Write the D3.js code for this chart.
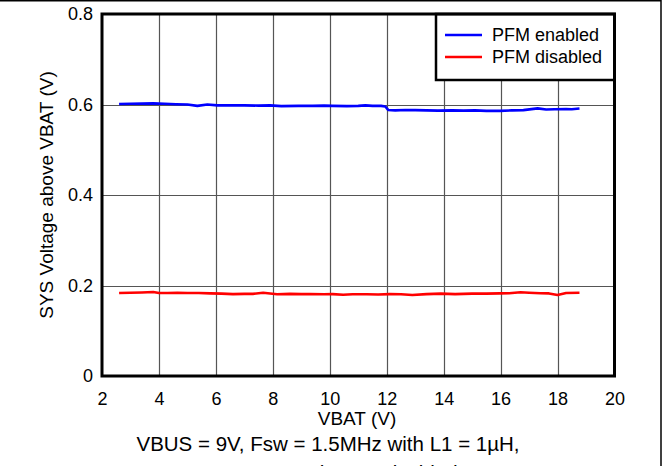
<!DOCTYPE html>
<html><head><meta charset="utf-8">
<script src="https://cdn.jsdelivr.net/npm/d3@7"></script>
<style>body{margin:0;background:#fff}svg{display:block}text{font-family:"Liberation Sans",Arial,Helvetica,sans-serif;fill:#000}</style>
</head><body>
<script>
const xTicks=[2,4,6,8,10,12,14,16,18,20];
const yTicks=[0,0.2,0.4,0.6,0.8];
const yTickLabels=["0","0.2","0.4","0.6","0.8"];
const seriesNames=["PFM enabled","PFM disabled"];
const seriesColors=["#0000ff","#ff0000"];
const enabledX=[2.6,3.0,3.4,3.8,4.2,4.6,5.0,5.35,5.7,6.05,6.5,7.0,7.5,7.9,8.3,8.9,9.4,9.8,10.1,10.6,11.0,11.25,11.5,11.8,11.95,12.05,12.3,12.65,13.0,13.4,13.8,14.3,14.7,15.1,15.5,15.97,16.4,16.8,17.3,17.6,17.9,18.3,18.5,18.77];
const enabledY=[.601,.6015,.602,.6025,.6015,.6005,.600,.597,.600,.598,.5985,.598,.5975,.598,.5965,.597,.597,.5975,.597,.5965,.597,.598,.597,.597,.5955,.588,.587,.588,.5875,.587,.5865,.587,.5865,.587,.586,.586,.587,.5875,.5915,.589,.5895,.590,.5895,.591];
const disabledX=[2.6,3.0,3.4,3.8,4.0,4.3,4.65,5.0,5.4,5.8,6.2,6.6,7.0,7.3,7.66,8.15,8.6,9.0,9.3,9.8,10.1,10.47,10.8,11.3,11.7,12.1,12.5,12.9,13.4,13.9,14.4,15.0,15.5,15.97,16.3,16.7,17.0,17.4,17.7,18.0,18.3,18.77];
const disabledY=[.1835,.184,.1845,.1855,.1835,.1835,.184,.1835,.1835,.1827,.182,.181,.1815,.1815,.184,.1805,.1815,.181,.181,.1805,.181,.1797,.1805,.1805,.180,.181,.1805,.179,.181,.182,.181,.182,.182,.1827,.183,.185,.184,.183,.1825,.179,.1835,.184];
const xTitle="VBAT (V)";
const yTitle="SYS Voltage above VBAT (V)";
const caption1="VBUS = 9V, Fsw = 1.5MHz with L1 = 1\u00b5H,";
const caption2="ISYS = 1A, Charge Disabled";

const W=669,H=466;
const L=102,R=614.5,T=14,B=376;
const svg=d3.select("body").append("svg").attr("width",W).attr("height",H);
const x=d3.scaleLinear().domain([2,20]).range([L,R]);
const y=d3.scaleLinear().domain([0,0.8]).range([B,T]);

// outer frame lines
svg.append("line").attr("x1",0).attr("x2",661).attr("y1",0.75).attr("y2",0.75).attr("stroke","#000").attr("stroke-width",1.5);
svg.append("line").attr("x1",661).attr("x2",661).attr("y1",0).attr("y2",H).attr("stroke","#000").attr("stroke-width",1.5);

// grid
const g=svg.append("g");
g.selectAll(".vg").data(xTicks.slice(1,-1)).join("line")
 .attr("x1",d=>Math.round(x(d))+0.5).attr("x2",d=>Math.round(x(d))+0.5).attr("y1",T).attr("y2",B)
 .attr("stroke","#555").attr("stroke-width",1.2);
g.selectAll(".hg").data(yTicks.slice(1,-1)).join("line")
 .attr("y1",d=>Math.round(y(d))+0.5).attr("y2",d=>Math.round(y(d))+0.5).attr("x1",L).attr("x2",R)
 .attr("stroke","#555").attr("stroke-width",1.2);

// axes labels via d3 axes
const xAxis=svg.append("g").attr("transform",`translate(0,${B})`)
 .call(d3.axisBottom(x).tickValues(xTicks).tickSize(0).tickPadding(16).tickFormat(d3.format("d")));
const yAxis=svg.append("g").attr("transform",`translate(${L},0)`)
 .call(d3.axisLeft(y).tickValues(yTicks).tickSize(0).tickPadding(9).tickFormat((d,i)=>yTickLabels[i]));
[xAxis,yAxis].forEach(a=>{a.select(".domain").remove();a.selectAll("text").style("font-size","18px").attr("fill","#000");});

// lines
const line=d3.line().x(d=>x(d[0])).y(d=>y(d[1])).curve(d3.curveLinear);
const s1=enabledX.map((v,i)=>[v,enabledY[i]]);
const s2=disabledX.map((v,i)=>[v,disabledY[i]]);
[s1,s2].forEach((s,i)=>{
 svg.append("path").datum(s).attr("d",line).attr("fill","none").attr("stroke",seriesColors[i]).attr("stroke-width",2.6).attr("stroke-linejoin","round");
});

// legend
const lg=svg.append("g");
lg.append("rect").attr("x",436).attr("y",T).attr("width",R-436).attr("height",66).attr("fill","#fff").attr("stroke","#000").attr("stroke-width",2.5);
seriesNames.forEach((n,i)=>{
 const yy=35+i*22;
 lg.append("line").attr("x1",445).attr("x2",482).attr("y1",yy).attr("y2",yy).attr("stroke",seriesColors[i]).attr("stroke-width",2.6);
 lg.append("text").attr("x",492).attr("y",yy).attr("dy","0.35em").style("font-size","18px").text(n);
});

// plot border
svg.append("rect").attr("x",L).attr("y",T).attr("width",R-L).attr("height",B-T).attr("fill","none").attr("stroke","#000").attr("stroke-width",3);

// titles
svg.append("text").attr("x",357).attr("y",425).attr("text-anchor","middle").style("font-size","19px").text(xTitle);
svg.append("text").attr("transform",`translate(53,${(T+B)/2}) rotate(-90)`).attr("text-anchor","middle").style("font-size","19px").text(yTitle);
svg.append("text").attr("x",328).attr("y",451).attr("text-anchor","middle").style("font-size","20.5px").text(caption1);
svg.append("text").attr("x",328).attr("y",480).attr("text-anchor","middle").style("font-size","20.5px").text(caption2);
</script>
</body></html>
